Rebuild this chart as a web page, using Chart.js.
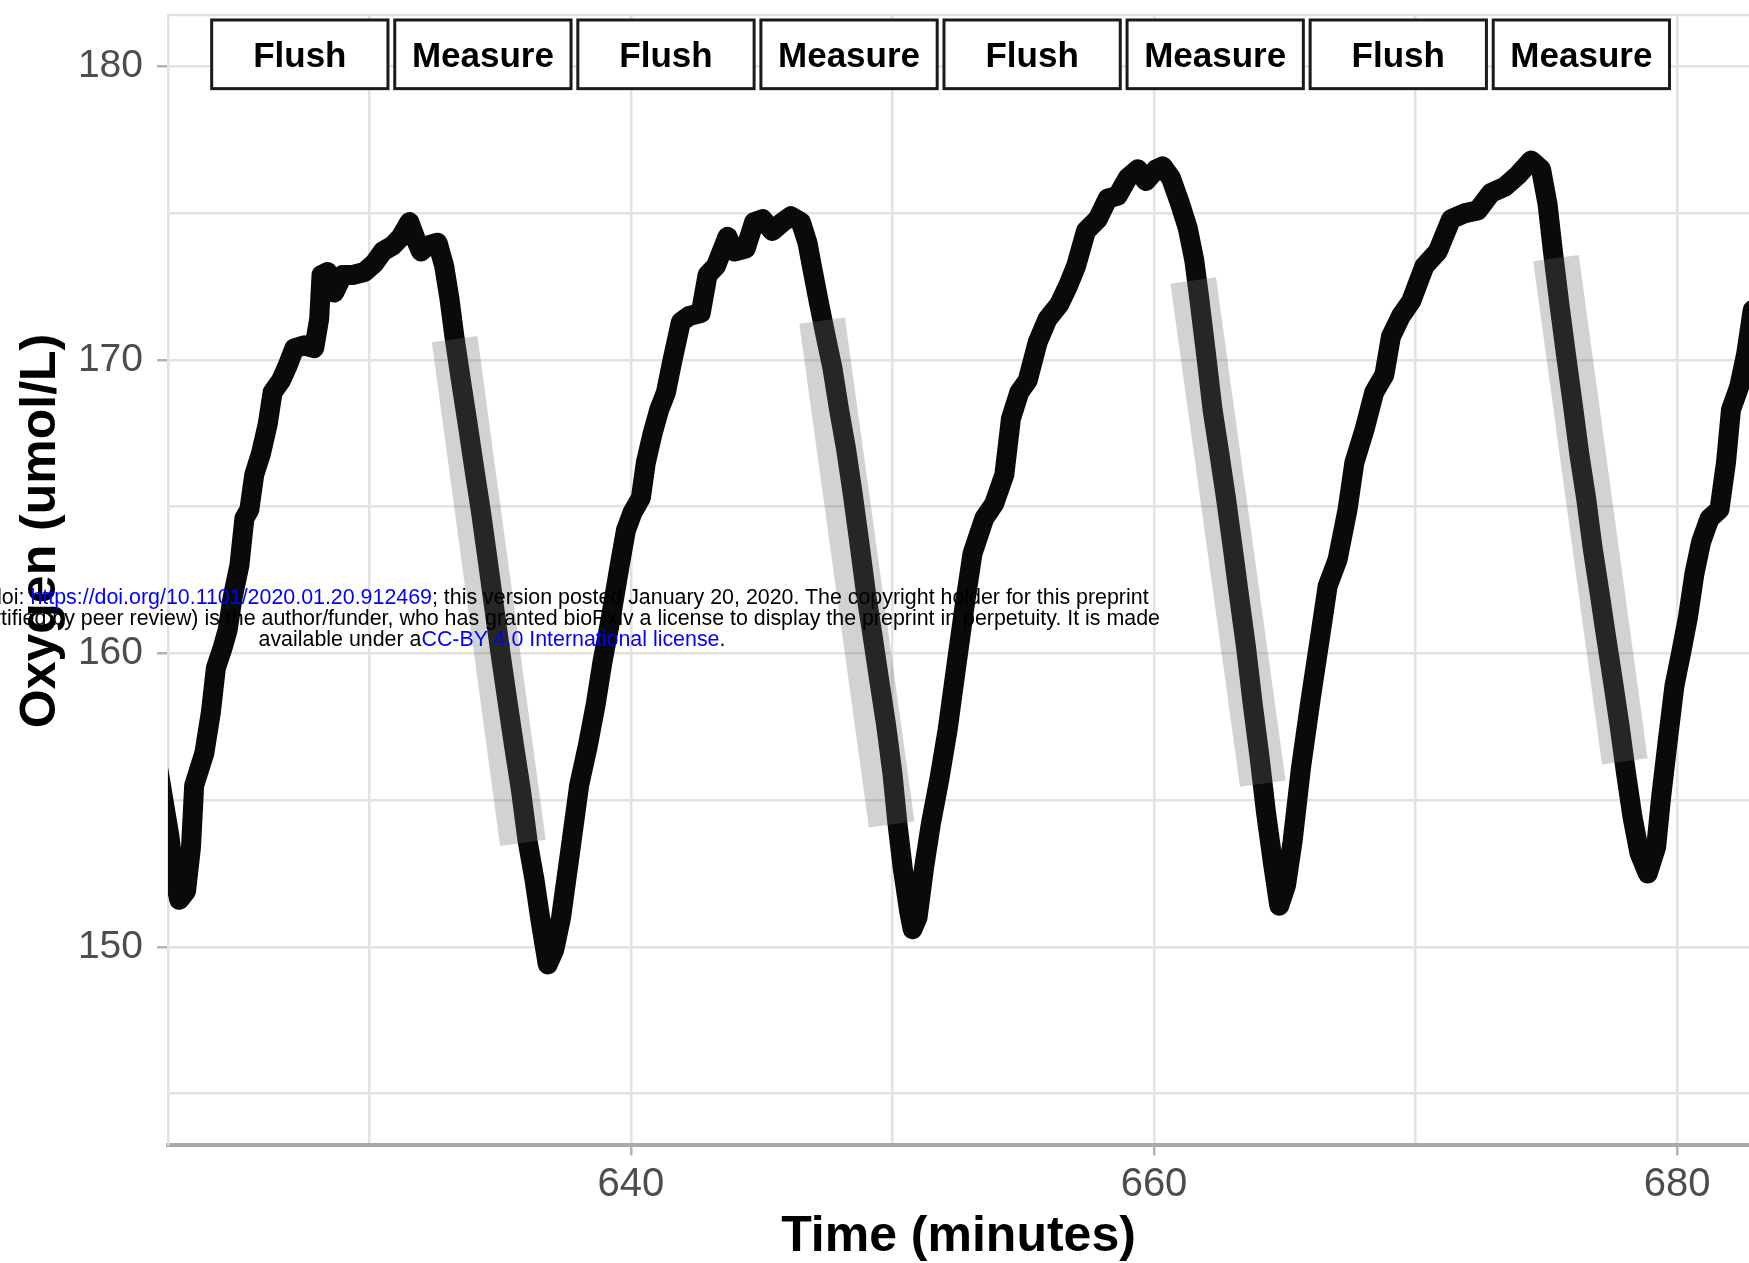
<!DOCTYPE html>
<html>
<head>
<meta charset="utf-8">
<script src="https://cdn.jsdelivr.net/npm/chart.js@4.4.1/dist/chart.umd.min.js"></script>
<style>
  html, body { margin: 0; padding: 0; background: #fff; overflow: hidden; }
  #wrap { position: relative; width: 1749px; height: 1263px; overflow: hidden; }
  #chart { position: absolute; left: 0; top: 0; }
  /* preprint stamp that sits over the figure */
  #stamp {
    position: absolute; left: -208px; top: 587px; width: 1400px;
    font-family: "Liberation Sans", Arial, sans-serif; font-size: 21.4px; line-height: 21px;
    color: #000; text-align: center; white-space: pre; pointer-events: none;
  }
  #stamp span { color: #0000ff; }
</style>
</head>
<body>
<div id="wrap">
  <canvas id="chart" width="1749" height="1263"></canvas>
  <div id="stamp">bioRxiv preprint doi: <span>https://doi.org/10.1101/2020.01.20.912469</span>; this version posted January 20, 2020. The copyright holder for this preprint
(which was not certified by peer review) is the author/funder, who has granted bioRxiv a license to display the preprint in perpetuity. It is made
available under a<span>CC-BY 4.0 International license</span>.</div>
</div>
<script>
  // oxygen trace (minutes, umol/L)
  const timeMin = [
    621.9, 622.35, 622.54, 622.73, 622.99, 623.18, 623.30, 623.69, 623.94, 624.13,
    624.39, 624.58, 624.77, 625.03, 625.22, 625.41, 625.60, 625.85, 626.11, 626.30,
    626.62, 626.87, 627.13, 627.51, 627.89, 628.08, 628.17, 628.40, 628.66, 628.98,
    629.36, 629.81, 630.19, 630.51, 630.89, 631.21, 631.53, 631.78, 631.97, 632.23,
    632.61, 632.86, 633.06, 633.25, 633.50, 633.76, 634.01, 634.27, 634.52, 634.78,
    635.03, 635.29, 635.54, 635.80, 636.05, 636.31, 636.56, 636.82, 637.07, 637.33,
    637.70, 638.02, 638.34, 638.66, 638.91, 639.23, 639.55, 639.81, 640.06, 640.38,
    640.57, 640.83, 641.08, 641.34, 641.59, 641.91, 642.23, 642.67, 642.93, 643.25,
    643.69, 643.95, 644.39, 644.71, 645.03, 645.41, 645.80, 646.12, 646.50, 646.75,
    646.94, 647.20, 647.45, 647.71, 647.96, 648.22, 648.47, 648.73, 648.98, 649.24,
    649.49, 649.75, 650.00, 650.19, 650.39, 650.64, 650.77, 650.96, 651.21, 651.47,
    651.79, 652.11, 652.43, 652.74, 653.06, 653.51, 653.89, 654.28, 654.53, 654.85,
    655.17, 655.55, 655.93, 656.38, 656.70, 657.02, 657.40, 657.85, 658.23, 658.61,
    658.99, 659.38, 659.69, 660.08, 660.33, 660.65, 660.97, 661.29, 661.54, 661.73,
    661.99, 662.24, 662.50, 662.75, 663.01, 663.26, 663.52, 663.77, 664.03, 664.28,
    664.54, 664.79, 665.05, 665.30, 665.62, 666.00, 666.39, 666.64, 667.02, 667.40,
    667.66, 668.04, 668.42, 668.81, 669.06, 669.44, 669.83, 670.34, 670.85, 671.36,
    671.87, 672.38, 672.89, 673.40, 673.91, 674.42, 674.80, 675.05, 675.24, 675.50,
    675.75, 676.01, 676.26, 676.52, 676.77, 677.03, 677.28, 677.54, 677.79, 678.05,
    678.30, 678.56, 678.88, 679.20, 679.39, 679.64, 679.90, 680.15, 680.41, 680.66,
    680.92, 681.24, 681.62, 681.87, 682.06, 682.38, 682.64, 682.89, 683.10
  ];
  const oxygen = [
    156.2, 153.8, 152.4, 151.6, 151.9, 153.4, 155.5, 156.6, 158.0, 159.5,
    160.2, 160.8, 161.9, 163.0, 164.6, 164.9, 166.1, 166.8, 167.8, 168.9,
    169.3, 169.8, 170.4, 170.5, 170.4, 171.4, 172.9, 173.0, 172.3, 172.9,
    172.9, 173.0, 173.3, 173.7, 173.9, 174.2, 174.7, 174.1, 173.7, 173.9,
    174.0, 173.2, 172.1, 170.8, 169.3, 167.8, 166.3, 164.8, 163.2, 161.5,
    159.9, 158.3, 156.8, 155.3, 153.6, 152.3, 150.8, 149.4, 149.9, 151.0,
    153.4, 155.5, 156.8, 158.3, 159.7, 161.2, 162.9, 164.2, 164.8, 165.3,
    166.5, 167.5, 168.3, 168.9, 170.0, 171.3, 171.5, 171.6, 172.9, 173.2,
    174.2, 173.7, 173.8, 174.7, 174.8, 174.4, 174.7, 174.9, 174.7, 174.0,
    173.1, 171.9, 170.8, 169.7, 168.3, 167.0, 165.5, 163.8, 162.1, 160.6,
    159.1, 157.6, 155.9, 154.2, 152.7, 151.2, 150.6, 151.0, 152.7, 154.2,
    155.7, 157.4, 159.5, 161.5, 163.4, 164.6, 165.1, 166.1, 168.0, 168.9,
    169.3, 170.6, 171.4, 171.9, 172.5, 173.2, 174.4, 174.8, 175.5, 175.6,
    176.2, 176.5, 176.1, 176.5, 176.6, 176.2, 175.4, 174.5, 173.4, 172.1,
    170.2, 168.3, 166.8, 165.3, 163.6, 161.9, 160.2, 158.3, 156.5, 154.6,
    152.9, 151.4, 152.1, 153.6, 156.1, 158.5, 160.8, 162.3, 163.2, 164.9,
    166.5, 167.6, 168.9, 169.5, 170.8, 171.5, 172.0, 173.2, 173.7, 174.8,
    175.0, 175.1, 175.7, 175.9, 176.3, 176.8, 176.5, 175.3, 173.8, 171.9,
    170.2, 168.5, 166.8, 165.3, 163.6, 162.1, 160.6, 159.1, 157.6, 155.9,
    154.4, 153.2, 152.5, 153.4, 155.1, 157.0, 158.9, 160.0, 161.2, 162.7,
    163.8, 164.6, 164.9, 166.5, 168.3, 169.1, 170.2, 171.7, 172.3
  ];

  // fitted slopes over each measure window (start / end)
  const fitStartTime = [633.26, 647.31, 661.50, 675.37];
  const fitStartO2 = [170.71, 171.34, 172.71, 173.47];
  const fitEndTime = [635.87, 649.97, 664.16, 678.00];
  const fitEndO2 = [153.54, 154.17, 155.56, 156.32];

  // phase labels along the top
  const phaseNames = ['Flush', 'Measure', 'Flush', 'Measure', 'Flush', 'Measure', 'Flush', 'Measure'];
  const phaseFrom = [623.97, 630.97, 637.97, 644.97, 651.97, 658.97, 665.97, 672.97];
  const phaseTo = [630.71, 637.71, 644.71, 651.71, 658.71, 665.71, 672.71, 679.71];
  const phaseLow = 179.25;
  const phaseHigh = 181.59;

  // axis ticks
  const xGridTicks = [630, 640, 650, 660, 670, 680];
  const xLabelTicks = [640, 660, 680];
  const yGridTicks = [145, 150, 155, 160, 165, 170, 175, 180];
  const yLabelTicks = [150, 160, 170, 180];

  const FONT = '"Liberation Sans", Arial, Helvetica, sans-serif';

  const traceData = timeMin.map((t, i) => ({ x: t, y: oxygen[i] }));

  const datasets = [{
    data: traceData,
    borderColor: '#0a0a0a',
    borderWidth: 20,
    borderJoinStyle: 'round',
    borderCapStyle: 'round',
    pointRadius: 0,
    tension: 0,
    clip: 0,
    order: 1
  }];
  for (let i = 0; i < fitStartTime.length; i++) {
    datasets.push({
      data: [{ x: fitStartTime[i], y: fitStartO2[i] }, { x: fitEndTime[i], y: fitEndO2[i] }],
      borderColor: 'rgba(105,105,105,0.3)',
      borderWidth: 46,
      borderCapStyle: 'butt',
      pointRadius: 0,
      clip: 0,
      order: 0
    });
  }

  const gridColor = '#e2e2e2';
  const majorTick = (list) => (ctx) => (ctx.tick && list.includes(ctx.tick.value)) ? '#b3b3b3' : 'rgba(0,0,0,0)';

  // top panel edge, phase boxes and the y title
  const extras = {
    id: 'extras',
    beforeDatasetsDraw(chart) {
      const { ctx, chartArea } = chart;
      ctx.save();
      ctx.strokeStyle = gridColor;
      ctx.lineWidth = 2.5;
      ctx.beginPath();
      ctx.moveTo(chartArea.left, chartArea.top);
      ctx.lineTo(chartArea.right, chartArea.top);
      ctx.stroke();
      ctx.restore();
    },
    afterDatasetsDraw(chart) {
      const { ctx } = chart;
      const xs = chart.scales.x;
      const ys = chart.scales.y;
      ctx.save();
      const top = ys.getPixelForValue(phaseHigh);
      const bottom = ys.getPixelForValue(phaseLow);
      for (let i = 0; i < phaseNames.length; i++) {
        const left = xs.getPixelForValue(phaseFrom[i]);
        const right = xs.getPixelForValue(phaseTo[i]);
        ctx.fillStyle = '#ffffff';
        ctx.fillRect(left, top, right - left, bottom - top);
        ctx.strokeStyle = '#1a1a1a';
        ctx.lineWidth = 3;
        ctx.strokeRect(left, top, right - left, bottom - top);
        ctx.fillStyle = '#000';
        ctx.font = 'bold 35px ' + FONT;
        ctx.textAlign = 'center';
        ctx.textBaseline = 'alphabetic';
        ctx.fillText(phaseNames[i], (left + right) / 2, (top + bottom) / 2 + 12.5);
      }
      // y title, sits a little above the middle of the panel
      ctx.translate(55, 531);
      ctx.rotate(-Math.PI / 2);
      ctx.font = 'bold 50px ' + FONT;
      ctx.fillStyle = '#000';
      ctx.textAlign = 'center';
      ctx.textBaseline = 'alphabetic';
      ctx.fillText('Oxygen (umol/L)', 0, 0);
      ctx.restore();
    }
  };

  new Chart(document.getElementById('chart'), {
    type: 'line',
    data: { datasets: datasets },
    plugins: [extras],
    options: {
      responsive: false,
      devicePixelRatio: 1,
      animation: false,
      layout: { padding: { top: 15, right: 0, left: 0, bottom: 0 } },
      plugins: { legend: { display: false }, tooltip: { enabled: false } },
      scales: {
        x: {
          type: 'linear',
          min: 622.3,
          max: 682.75,
          afterBuildTicks: (s) => { s.ticks = xGridTicks.map(v => ({ value: v })); },
          afterFit: (s) => { s.height = 118.5; s.paddingLeft = 0; s.paddingRight = 0; },
          ticks: {
            autoSkip: false,
            maxRotation: 0,
            padding: 5,
            color: '#4d4d4d',
            font: { family: FONT, size: 40 },
            callback: (v) => xLabelTicks.includes(v) ? String(v) : ''
          },
          grid: {
            color: gridColor,
            lineWidth: 2.5,
            tickLength: 11,
            tickWidth: 2.5,
            tickColor: majorTick(xLabelTicks)
          },
          border: { color: '#a9a9a9', width: 4 },
          title: {
            display: true,
            text: 'Time (minutes)',
            color: '#000',
            font: { family: FONT, size: 50, weight: 'bold' },
            padding: { top: 0, bottom: -4 }
          }
        },
        y: {
          type: 'linear',
          min: 143.26,
          max: 181.76,
          afterBuildTicks: (s) => { s.ticks = yGridTicks.map(v => ({ value: v })); },
          afterFit: (s) => { s.width = 168; s.paddingTop = 0; s.paddingBottom = 0; },
          ticks: {
            autoSkip: false,
            padding: 14,
            color: '#4d4d4d',
            font: { family: FONT, size: 39 },
            callback: (v) => yLabelTicks.includes(v) ? String(v) : ''
          },
          grid: {
            color: gridColor,
            lineWidth: 2.5,
            tickLength: 11,
            tickWidth: 2.5,
            tickColor: majorTick(yLabelTicks)
          },
          border: { color: gridColor, width: 2.5 },
          title: { display: false }
        }
      }
    }
  });
</script>
</body>
</html>
